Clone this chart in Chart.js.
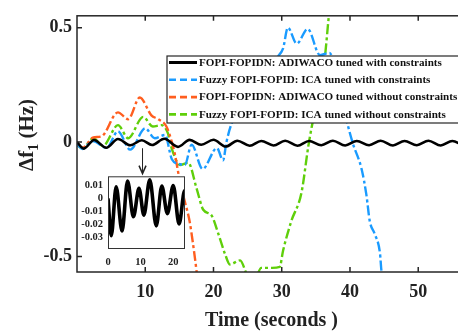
<!DOCTYPE html>
<html>
<head>
<meta charset="utf-8">
<script src="https://cdn.jsdelivr.net/npm/chart.js@4.4.1/dist/chart.umd.min.js"></script>
<style>
  html, body { margin: 0; padding: 0; background: #fff; overflow: hidden; }
  #wrap { position: relative; width: 458px; height: 335px; overflow: hidden; }
  #main { position: absolute; left: 0; top: 0; }
  #inset { position: absolute; left: 60px; top: 165px; }
</style>
</head>
<body>
<div id="wrap">
  <canvas id="main" width="467" height="335"></canvas>
  <canvas id="inset" width="130" height="105"></canvas>
</div>
<script>
const seriesLabels = [
  'FOPI-FOPIDN: ADIWACO tuned with constraints',
  'Fuzzy FOPI-FOPID: ICA tuned with constraints',
  'FOPI-FOPIDN: ADIWACO tuned without constraints',
  'Fuzzy FOPI-FOPID: ICA tuned without constraints'
]
const seriesColors = ['#000000', '#1a9bff', '#ff5e1f', '#5fcf0a']

// time (s) and delta f1 (Hz)
const blackT = [0, 1, 2.5, 4.3, 6, 7.8, 9.5, 11, 12.8, 14.8, 16.5, 18.2, 20, 21.8, 23.5, 25.3, 27, 28.8, 30.5, 32.3, 34, 35.8, 37.5, 39.3, 41, 42.8, 44.5, 46.3, 48, 49.8, 51.5, 53.3, 55, 56.8, 58.5]
const blackV = [0, -0.0285, 0.009, -0.025, 0.0134, -0.014, 0.0078, -0.0128, 0.0144, -0.021, 0.0095, -0.0116, 0.010, -0.0196, 0.006, -0.016, 0.005, -0.015, 0.006, -0.016, 0.005, -0.014, 0.006, -0.015, 0.005, -0.014, 0.006, -0.015, 0.005, -0.014, 0.006, -0.015, 0.005, -0.014, 0.005]

const blueT = [0, 0.8, 2.3, 4.35, 6, 7.8, 10, 11.4, 12.9, 13.9, 15.1, 15.8, 16.8, 18.4, 20.5, 21.4, 21.9, 22.65, 26, 29.3, 30.2, 30.9, 32.2, 33.8, 35.6, 37, 38.3, 39.5, 40.4, 41.7, 42.4, 42.9, 43.6, 44.4, 44.6, 45.2]
const blueV = [-0.01, -0.03, 0.004, -0.025, 0.047, -0.033, 0.06, 0.017, 0.031, -0.075, -0.097, -0.1, -0.011, -0.118, -0.026, -0.08, 0, 0.08, 0.23, 0.37, 0.41, 0.5, 0.43, 0.495, 0.38, 0.39, 0.25, 0.095, -0.004, -0.118, -0.23, -0.346, -0.4, -0.487, -0.56, -0.65]

const orangeT = [0, 0.8, 2.4, 3.6, 6, 7.5, 9.2, 10.9, 11.9, 13.1, 13.9, 14.3, 15.1, 15.8, 16.5, 17, 17.5, 18]
const orangeV = [-0.01, -0.025, 0.02, 0.025, 0.13, 0.1, 0.195, 0.117, 0.1, 0.068, 0, -0.047, -0.175, -0.26, -0.346, -0.445, -0.56, -0.7]

const greenT = [0, 0.8, 2.4, 3.8, 6, 7.5, 9.7, 11.1, 12.4, 13.3, 13.8, 15.1, 16.3, 17.5, 18.5, 19.7, 20.7, 21.7, 22.4, 23.9, 24.9, 25.8, 27, 28.6, 29.7, 30.2, 31.4, 32.9, 33.9, 34.4, 35.3, 36.3, 36.9, 37.3]
const greenV = [-0.01, -0.028, 0.017, -0.017, 0.074, 0.017, 0.11, 0.068, 0.074, 0.04, -0.02, -0.1, -0.09, -0.2, -0.296, -0.32, -0.4, -0.49, -0.535, -0.517, -0.58, -0.62, -0.55, -0.55, -0.546, -0.474, -0.346, -0.22, -0.017, 0.067, 0.2, 0.366, 0.55, 0.65]

const xTicks = [10, 20, 30, 40, 50]
const yTicks = [-0.5, 0, 0.5]
const insetXTicks = [0, 10, 20]
const insetYTicks = [-0.03, -0.02, -0.01, 0, 0.01]

// arrow from the curve down to the zoomed inset
const arrowT = 9.6
const arrowFrom = -0.027
const arrowTo = -0.138

const FONT = 'Liberation Serif'
const AXIS = '#262626'

function toPoints (t, v) {
  return t.map((x, i) => ({ x, y: v[i] }))
}

const seriesT = [blackT, blueT, orangeT, greenT]
const seriesV = [blackV, blueV, orangeV, greenV]

const datasets = seriesLabels.map((label, i) => ({
  label,
  data: toPoints(seriesT[i], seriesV[i]),
  borderColor: seriesColors[i],
  borderWidth: i === 0 ? 2.6 : 2.4,
  borderDash: i === 0 ? [] : [10, 3, 3, 3],
  pointRadius: 0,
  cubicInterpolationMode: 'monotone',
  fill: false
}))

const frame = {
  id: 'frame',
  afterDatasetsDraw (chart) {
    const { ctx, chartArea: a, scales } = chart
    ctx.save()
    ctx.strokeStyle = AXIS
    ctx.lineWidth = 1.5
    ctx.strokeRect(a.left, a.top, a.right - a.left, a.bottom - a.top)
    ctx.beginPath()
    xTicks.forEach(v => {
      const x = scales.x.getPixelForValue(v)
      ctx.moveTo(x, a.bottom); ctx.lineTo(x, a.bottom - 5)
      ctx.moveTo(x, a.top); ctx.lineTo(x, a.top + 5)
    })
    yTicks.forEach(v => {
      const y = scales.y.getPixelForValue(v)
      ctx.moveTo(a.left, y); ctx.lineTo(a.left + 5, y)
    })
    ctx.stroke()

    // arrow
    const ax = scales.x.getPixelForValue(arrowT)
    const y1 = scales.y.getPixelForValue(arrowFrom)
    const y2 = scales.y.getPixelForValue(arrowTo)
    ctx.strokeStyle = '#222'
    ctx.lineWidth = 1
    ctx.beginPath()
    ctx.moveTo(ax, y1); ctx.lineTo(ax, y2)
    ctx.stroke()
    ctx.lineWidth = 1.5
    ctx.beginPath()
    ctx.moveTo(ax - 3.5, y2 - 8); ctx.lineTo(ax, y2); ctx.lineTo(ax + 3.5, y2 - 8)
    ctx.stroke()

    // legend
    const lx = 167; const ly = 56; const lh = 67; const rowH = 17.3
    ctx.fillStyle = '#fff'
    ctx.fillRect(lx, ly, 330, lh)
    ctx.strokeStyle = AXIS
    ctx.lineWidth = 1.2
    ctx.strokeRect(lx, ly, 330, lh)
    ctx.font = 'bold 11.1px "' + FONT + '"'
    ctx.textBaseline = 'middle'
    chart.data.datasets.forEach((ds, i) => {
      const y = ly + 6.5 + rowH * i
      ctx.strokeStyle = ds.borderColor
      ctx.lineWidth = i === 0 ? 3 : 2.6
      ctx.setLineDash(i === 0 ? [] : [7, 4])
      ctx.beginPath()
      ctx.moveTo(169, y); ctx.lineTo(197, y)
      ctx.stroke()
      ctx.setLineDash([])
      ctx.fillStyle = '#111'
      ctx.fillText(ds.label, 199, y + 0.5)
    })

    // y title with subscript
    ctx.translate(33, 135)
    ctx.rotate(-Math.PI / 2)
    ctx.fillStyle = '#222'
    ctx.textBaseline = 'alphabetic'
    const big = 'bold 21px "' + FONT + '"'
    const small = 'bold 14px "' + FONT + '"'
    ctx.font = big
    const w1 = ctx.measureText('\u0394f').width
    const w3 = ctx.measureText(' (Hz)').width
    ctx.font = small
    const w2 = ctx.measureText('1').width
    let x = -(w1 + w2 + w3) / 2
    ctx.font = big
    ctx.fillText('\u0394f', x, 0); x += w1
    ctx.font = small
    ctx.fillText('1', x, 5); x += w2
    ctx.font = big
    ctx.fillText(' (Hz)', x, 0)
    ctx.restore()
  }
}

new Chart(document.getElementById('main'), {
  type: 'line',
  data: { datasets },
  options: {
    responsive: false,
    animation: false,
    layout: { padding: { top: 10, left: 0, right: 1, bottom: 0 } },
    plugins: { legend: { display: false }, tooltip: { enabled: false } },
    scales: {
      x: {
        type: 'linear',
        min: 0,
        max: 57,
        grid: { display: false, drawTicks: false },
        border: { display: false },
        ticks: { font: { family: FONT, size: 18, weight: 'bold' }, color: '#222', padding: 10, maxRotation: 0, autoSkip: false },
        afterBuildTicks: s => { s.ticks = xTicks.map(v => ({ value: v })) },
        afterFit: s => { s.height = 63 },
        title: { display: true, text: 'Time (seconds )', font: { family: FONT, size: 20, weight: 'bold' }, color: '#222', padding: { top: 0, bottom: 2 } }
      },
      y: {
        min: -0.568,
        max: 0.552,
        grid: { display: false, drawTicks: false },
        border: { display: false },
        ticks: { font: { family: FONT, size: 18, weight: 'bold' }, color: '#222', padding: 5, callback: v => String(v) },
        afterBuildTicks: s => { s.ticks = yTicks.map(v => ({ value: v })) },
        afterFit: s => { s.width = 77 }
      }
    }
  },
  plugins: [frame]
})

const insetFrame = {
  id: 'insetFrame',
  beforeDatasetsDraw (chart) {
    const { ctx, chartArea: a } = chart
    ctx.save()
    ctx.fillStyle = '#fff'
    ctx.fillRect(a.left, a.top, a.right - a.left, a.bottom - a.top)
    ctx.restore()
  },
  afterDatasetsDraw (chart) {
    const { ctx, chartArea: a } = chart
    ctx.save()
    ctx.strokeStyle = '#333'
    ctx.lineWidth = 1
    ctx.strokeRect(a.left + 0.5, a.top + 0.5, a.right - a.left, a.bottom - a.top)
    ctx.restore()
  }
}

new Chart(document.getElementById('inset'), {
  type: 'line',
  data: {
    datasets: [{
      data: toPoints(blackT, blackV),
      borderColor: '#000',
      borderWidth: 3.6,
      pointRadius: 0,
      cubicInterpolationMode: 'monotone'
    }]
  },
  options: {
    responsive: false,
    animation: false,
    layout: { padding: { top: 7, left: 0, right: 6, bottom: 0 } },
    plugins: { legend: { display: false }, tooltip: { enabled: false } },
    scales: {
      x: {
        type: 'linear',
        min: 0,
        max: 23.3,
        grid: { display: false, drawTicks: false },
        border: { display: false },
        ticks: { font: { family: FONT, size: 10.5, weight: 'bold' }, color: '#222', padding: 8, maxRotation: 0, autoSkip: false },
        afterBuildTicks: s => { s.ticks = insetXTicks.map(v => ({ value: v })) },
        afterFit: s => { s.height = 22 }
      },
      y: {
        min: -0.038,
        max: 0.017,
        grid: { display: false, drawTicks: false },
        border: { display: false },
        ticks: { font: { family: FONT, size: 10.5, weight: 'bold' }, color: '#222', padding: 5, callback: v => String(v) },
        afterBuildTicks: s => { s.ticks = insetYTicks.map(v => ({ value: v })) },
        afterFit: s => { s.width = 48 }
      }
    }
  },
  plugins: [insetFrame]
})
</script>
</body>
</html>
